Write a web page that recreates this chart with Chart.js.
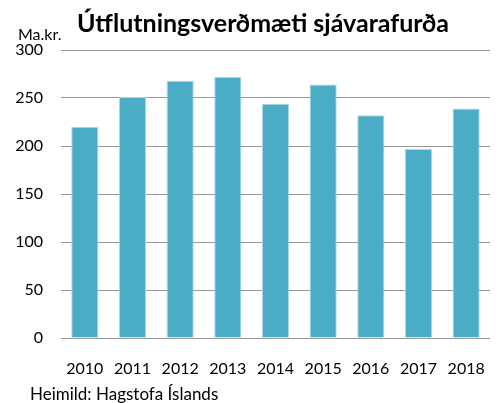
<!DOCTYPE html>
<html>
<head>
<meta charset="utf-8">
<script src="https://cdn.jsdelivr.net/npm/chart.js@4"></script>
<style>
  body { margin: 0; background: #fff; }
  canvas { display: block; }
</style>
</head>
<body>
<canvas id="chart" width="499" height="403"></canvas>
<script>
const years = ['2010', '2011', '2012', '2013', '2014', '2015', '2016', '2017', '2018'];
const exportValue = [220, 251, 268, 272, 244, 264, 232, 197, 239];
const yTicks = [0, 50, 100, 150, 200, 250, 300];

const titleText = 'Útflutningsverðmæti sjávarafurða';
const unitText = 'Ma.kr.';
const sourceText = 'Heimild: Hagstofa Íslands';

// extra texts drawn on the canvas
const labelsPlugin = {
  id: 'labels',
  afterDraw(chart) {
    const ctx = chart.ctx;
    ctx.save();
    ctx.fillStyle = '#000';
    ctx.textBaseline = 'alphabetic';
    ctx.font = 'bold 25px Lato';
    ctx.textAlign = 'center';
    ctx.fillText(titleText, 263, 32);
    ctx.font = '16px Lato';
    ctx.textAlign = 'left';
    ctx.fillText(unitText, 18, 40);
    ctx.font = '17px Lato';
    ctx.fillText(sourceText, 30, 400);
    ctx.restore();
  }
};

const ctx = document.getElementById('chart').getContext('2d');
new Chart(ctx, {
  type: 'bar',
  data: {
    labels: years,
    datasets: [{
      data: exportValue,
      backgroundColor: '#4BACC6',
      borderColor: '#a9d8e6',
      borderWidth: 1,
      barPercentage: 0.57,
      categoryPercentage: 1
    }]
  },
  options: {
    responsive: false,
    animation: false,
    layout: { padding: { top: 50, right: 9, left: 0, bottom: 0 } },
    plugins: {
      legend: { display: false },
      tooltip: { enabled: false }
    },
    scales: {
      x: {
        grid: { display: false },
        border: { display: false },
        ticks: { color: '#000', font: { family: 'Lato', size: 16 }, padding: 13, maxRotation: 0 },
        afterFit(scale) { scale.height = 65; }
      },
      y: {
        min: 0,
        max: 300,
        afterBuildTicks(scale) { scale.ticks = yTicks.map(v => ({ value: v })); },
        grid: { color: '#999', lineWidth: 1, drawTicks: false },
        border: { display: false },
        ticks: { color: '#000', font: { family: 'Lato', size: 16 }, padding: 18 },
        afterFit(scale) { scale.width = 61; }
      }
    }
  },
  plugins: [labelsPlugin]
});
</script>
</body>
</html>
